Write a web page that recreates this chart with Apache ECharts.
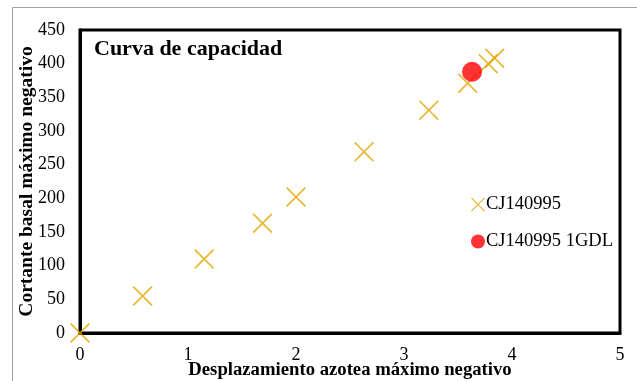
<!DOCTYPE html>
<html>
<head>
<meta charset="utf-8">
<script src="https://cdn.jsdelivr.net/npm/echarts@6/dist/echarts.min.js"></script>
<style>
  html, body { margin: 0; padding: 0; background: #fff; }
  #chart { width: 637px; height: 381px; }
</style>
</head>
<body>
<div id="chart"></div>
<script>
// Datos
const desplazamiento = [0, 0.58, 1.15, 1.69, 2.0, 2.63, 3.23, 3.59, 3.78, 3.84]
const cortante = [0, 55, 110, 163, 202, 269, 331, 371, 400, 408]
const desplazamiento1GDL = [3.63]
const cortante1GDL = [388]
const seriesNames = ['CJ140995', 'CJ140995 1GDL']

const cross = 'path://M0,1.2L1.2,0L10,8.8L18.8,0L20,1.2L11.2,10L20,18.8L18.8,20L10,11.2L1.2,20L0,18.8L8.8,10Z'
const gold = '#E2A600'
const font = 'Liberation Serif'

const chart = echarts.init(document.getElementById('chart'), null, { renderer: 'canvas' })

chart.setOption({
  animation: false,
  textStyle: { fontFamily: font },
  graphic: [
    {
      type: 'rect',
      shape: { x: 12.5, y: 7.5, width: 700, height: 400 },
      style: { fill: 'none', stroke: '#a0a0a0', lineWidth: 1 },
      silent: true,
    },
    {
      type: 'text',
      left: 94,
      top: 38,
      style: { text: 'Curva de capacidad', font: 'bold 22px "Liberation Serif"', fill: '#000' },
      silent: true,
    },
  ],
  legend: {
    orient: 'vertical',
    left: 466,
    top: 190,
    itemGap: 18,
    itemWidth: 14,
    itemHeight: 14,
    textStyle: { fontFamily: font, fontSize: 18.5, color: '#000', padding: [0, 0, 0, -4] },
    data: [
      { name: seriesNames[0], icon: cross },
      { name: seriesNames[1], icon: 'circle' },
    ],
  },
  grid: {
    left: 80, right: 17, top: 30, bottom: 48,
    outerBoundsMode: 'none',
    containLabel: false,
    show: true, borderColor: '#000', borderWidth: 3,
  },
  xAxis: {
    type: 'value',
    min: 0, max: 5, interval: 1,
    name: 'Desplazamiento azotea máximo negativo',
    nameLocation: 'middle',
    nameGap: 28,
    nameMoveOverlap: false,
    nameTextStyle: { fontFamily: font, fontSize: 18.7, fontWeight: 'bold', color: '#000' },
    axisLine: { show: true, lineStyle: { color: '#000', width: 3 } },
    axisTick: { show: false },
    splitLine: { show: false },
    axisLabel: { fontFamily: font, fontSize: 18, color: '#000', margin: 13 },
  },
  yAxis: {
    type: 'value',
    min: 0, max: 450, interval: 50,
    name: 'Cortante basal máximo negativo',
    nameLocation: 'middle',
    nameGap: 43,
    nameMoveOverlap: false,
    nameTextStyle: { fontFamily: font, fontSize: 19.5, fontWeight: 'bold', color: '#000' },
    axisLine: { show: true, lineStyle: { color: '#000', width: 3 } },
    axisTick: { show: false },
    splitLine: { show: false },
    axisLabel: { fontFamily: font, fontSize: 18, color: '#000', margin: 15 },
  },
  series: [
    {
      name: seriesNames[0],
      type: 'scatter',
      symbol: cross,
      symbolSize: 20,
      itemStyle: { color: gold },
      data: desplazamiento.map((x, i) => [x, cortante[i]]),
      z: 2,
    },
    {
      name: seriesNames[1],
      type: 'scatter',
      symbol: 'circle',
      symbolSize: 20,
      itemStyle: { color: '#FF0000' },
      data: desplazamiento1GDL.map((x, i) => [x, cortante1GDL[i]]),
      z: 3,
    },
  ],
})
</script>
</body>
</html>
